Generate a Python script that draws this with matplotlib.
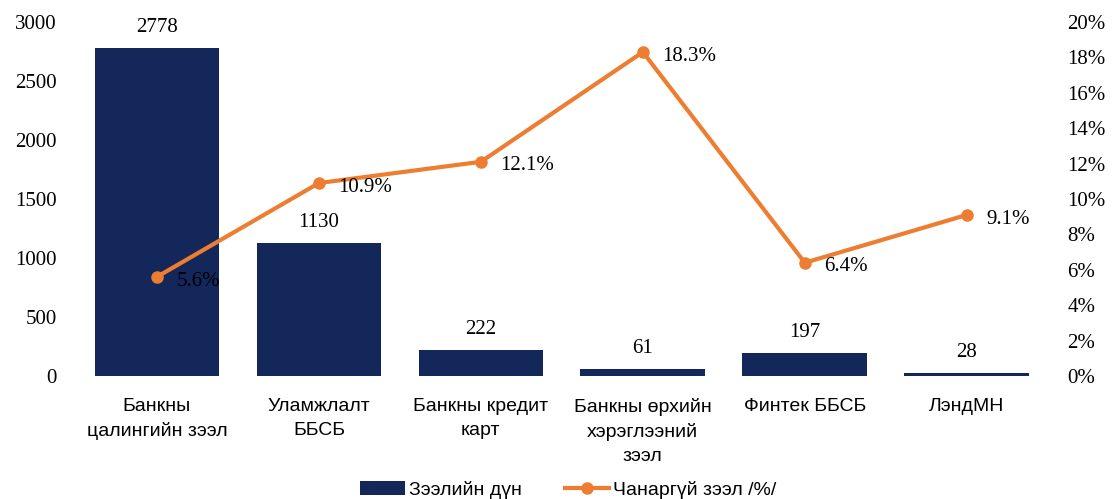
import matplotlib.pyplot as plt
import numpy as np

categories = ["Банкны\nцалингийн зээл", "Уламжлалт\nББСБ", "Банкны кредит\nкарт",
              "Банкны өрхийн\nхэрэглээний\nзээл", "Финтек ББСБ", "ЛэндМН"]
loan_amount = [2778, 1130, 222, 61, 197, 28]
npl_pct = [5.6, 10.9, 12.1, 18.3, 6.4, 9.1]

navy = "#14275a"
orange = "#ed7d31"
serif = ["Liberation Serif", "DejaVu Serif"]
narrow = ["Liberation Sans Narrow", "Liberation Sans", "DejaVu Sans"]

fig = plt.figure(figsize=(11.17, 4.99), dpi=100)
ax = fig.add_axes([0.068, 0.2465, 0.87, 0.7095])
ax2 = ax.twinx()

x = np.arange(len(categories))
bars = ax.bar(x, loan_amount, width=0.77, color=navy, label="Зээлийн дүн")
for xi, v in zip(x, loan_amount):
    ax.annotate(str(v), (xi, v), xytext=(0, 8), textcoords="offset points",
                ha="center", va="bottom", fontsize=15, family=serif)

line, = ax2.plot(x, npl_pct, color=orange, lw=3, marker="o", ms=8,
                 label="Чанаргүй зээл /%/")
for xi, v in zip(x, npl_pct):
    ax2.annotate(f"{v}%", (xi, v), xytext=(14, -3), textcoords="offset points",
                 ha="left", va="center", fontsize=15, family=serif)

ax.set_xlim(-0.5, len(categories) - 0.5)
ax.set_ylim(0, 3000)
ax.set_yticks(np.arange(0, 3001, 500))
ax2.set_ylim(0, 20)
ax2.set_yticks(np.arange(0, 21, 2))
ax2.set_yticklabels([f"{t}%" for t in range(0, 21, 2)])

ax.set_xticks(x)
ax.set_xticklabels(categories, fontsize=14, family=narrow, linespacing=1.5)
for a in (ax, ax2):
    for s in a.spines.values():
        s.set_visible(False)
    a.tick_params(length=0)
for lbl in ax.get_yticklabels() + ax2.get_yticklabels():
    lbl.set_family(serif)
    lbl.set_fontsize(15)
ax.tick_params(axis="y", pad=14)
ax2.tick_params(axis="y", pad=14)
ax.tick_params(axis="x", pad=16)

fig.legend([bars, line], ["Зээлийн дүн", "Чанаргүй зээл /%/"], loc="lower center",
           bbox_to_anchor=(0.509, -0.035), ncol=2, frameon=False,
           prop={"family": narrow, "size": 14}, handlelength=2.3,
           handletextpad=0.2, columnspacing=2.2)

fig.savefig("out.png", dpi=100)
